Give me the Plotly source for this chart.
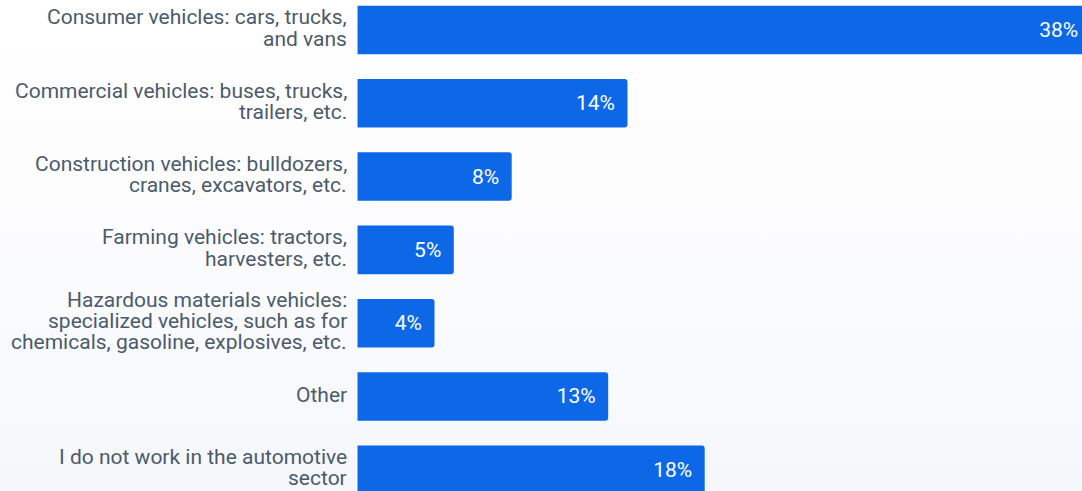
import base64
import plotly.graph_objects as go

# Survey answers, top to bottom (line breaks as printed)
categories = [
    "Consumer vehicles: cars, trucks,<br>and vans",
    "Commercial vehicles: buses, trucks,<br>trailers, etc.",
    "Construction vehicles: bulldozers,<br>cranes, excavators, etc.",
    "Farming vehicles: tractors,<br>harvesters, etc.",
    "Hazardous materials vehicles:<br>specialized vehicles, such as for<br>chemicals, gasoline, explosives, etc.",
    "Other",
    "I do not work in the automotive<br>sector",
]
shares = [38, 14, 8, 5, 4, 13, 18]

W, H = 1082, 491
BAR_BLUE = "#0d68e8"
LABEL_GREY = "#4b5b6b"
FONT = "Roboto"
LINE_PX = 21.3  # tight line pitch for the category labels
positions = list(range(len(categories)))

# soft vertical wash behind the chart
svg = (
    '<svg xmlns="http://www.w3.org/2000/svg" width="100" height="100" preserveAspectRatio="none">'
    '<defs><linearGradient id="g" x1="0" y1="0" x2="0" y2="1">'
    '<stop offset="0" stop-color="#ffffff"/><stop offset="0.35" stop-color="#fdfdfe"/>'
    '<stop offset="1" stop-color="#f5f7fb"/></linearGradient></defs>'
    '<rect width="100" height="100" fill="url(#g)"/></svg>'
)
bg_src = "data:image/svg+xml;base64," + base64.b64encode(svg.encode()).decode()

fig = go.Figure(
    go.Bar(
        x=shares,
        y=positions,
        orientation="h",
        marker=dict(color=BAR_BLUE, cornerradius=3, line=dict(width=0)),
        texttemplate="%{x}%\u00a0\u2009",
        textposition="inside",
        insidetextanchor="end",
        insidetextfont=dict(family=FONT, size=21, color="white"),
        constraintext="none",
        cliponaxis=True,
        hoverinfo="skip",
    )
)

# category labels, one annotation per printed line, right-aligned left of the bars
for pos, label in zip(positions, categories):
    lines = label.split("<br>")
    n = len(lines)
    for i, line in enumerate(lines):
        offset = (i - (n - 1) / 2) * LINE_PX - 2
        fig.add_annotation(
            x=0, y=pos, xref="x", yref="y",
            text=line, showarrow=False,
            xanchor="right", yanchor="middle",
            xshift=-8, yshift=-offset,
            font=dict(family=FONT, size=21, color=LABEL_GREY),
        )

fig.update_layout(
    width=W, height=H,
    margin=dict(l=0, r=0, t=0, b=0),
    paper_bgcolor="white",
    plot_bgcolor="rgba(0,0,0,0)",
    bargap=0.338,
    showlegend=False,
    images=[dict(source=bg_src, xref="paper", yref="paper", x=0, y=1,
                 sizex=1, sizey=1, sizing="stretch", layer="below",
                 xanchor="left", yanchor="top")],
    xaxis=dict(domain=[357.3 / W, 1], range=[0, 37.55], visible=False,
               fixedrange=True),
    yaxis=dict(
        range=[6.289, -0.408],
        tickvals=positions,
        showticklabels=False,
        showgrid=False, zeroline=False, showline=False, ticks="",
        fixedrange=True,
    ),
)

fig.write_html("out.html")
